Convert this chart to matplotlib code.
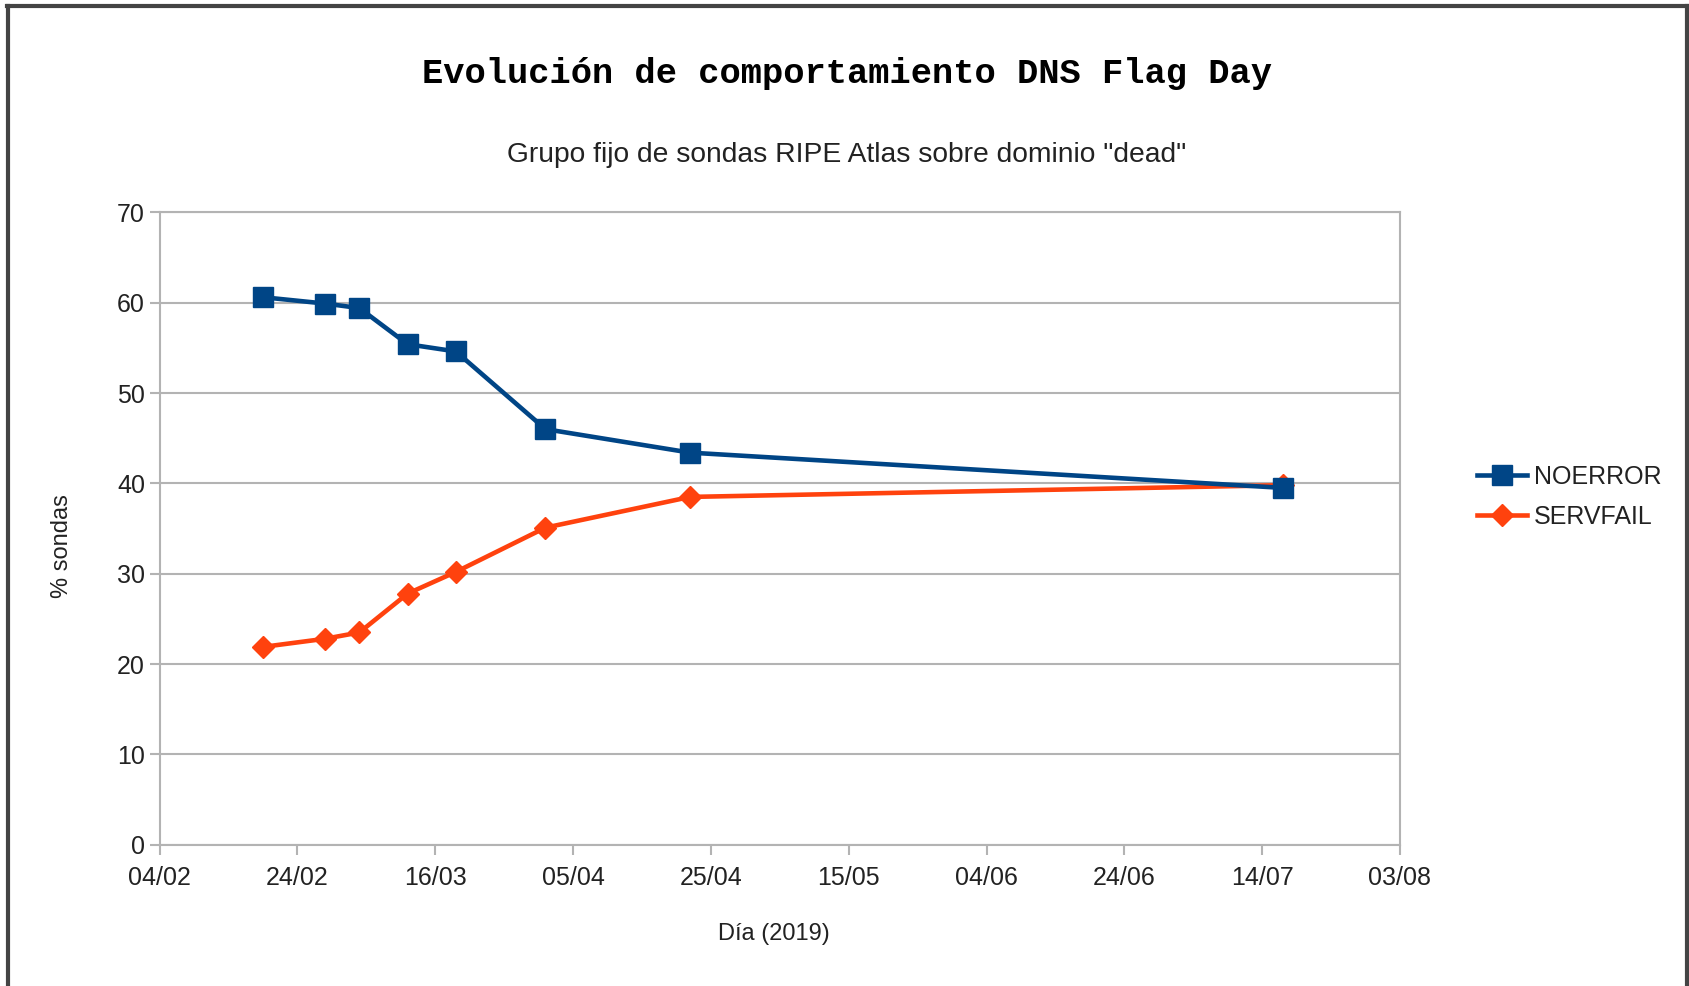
import matplotlib
matplotlib.use("Agg")
import matplotlib.pyplot as plt
import matplotlib.dates as mdates
from matplotlib.lines import Line2D
import pandas as pd

# Fechas de medición y porcentaje de sondas
fechas = pd.to_datetime([
    "2019-02-19", "2019-02-28", "2019-03-05", "2019-03-12",
    "2019-03-19", "2019-04-01", "2019-04-22", "2019-07-17",
])
noerror = [60.6, 59.9, 59.4, 55.4, 54.6, 46.0, 43.4, 39.5]
servfail = [21.9, 22.8, 23.5, 27.8, 30.2, 35.1, 38.5, 39.8]

ticks_x = pd.date_range("2019-02-04", "2019-08-03", freq="20D")
ticks_y = [0, 10, 20, 30, 40, 50, 60, 70]

azul = "#004586"
naranja = "#ff420e"
gris = "#b3b3b3"

plt.rcParams["font.family"] = ["Liberation Sans", "DejaVu Sans"]

fig = plt.figure(figsize=(16.9, 9.86), dpi=100)
ax = fig.add_axes([0.0944, 0.1432, 0.734, 0.6415])

ax.plot(fechas, servfail, color=naranja, lw=3.3, marker="D", ms=11,
        label="SERVFAIL", zorder=3)
ax.plot(fechas, noerror, color=azul, lw=3.3, marker="s", ms=14.5,
        label="NOERROR", zorder=4)

ax.set_xlim(ticks_x[0], ticks_x[-1])
ax.set_ylim(0, 70)
ax.set_xticks(ticks_x)
ax.xaxis.set_major_formatter(mdates.DateFormatter("%d/%m"))
ax.set_yticks(ticks_y)
ax.yaxis.grid(True, color=gris, lw=1.5)
ax.set_axisbelow(True)
for s in ax.spines.values():
    s.set_color(gris)
    s.set_linewidth(1.5)
ax.tick_params(axis="both", colors=gris, labelcolor="#222222",
               labelsize=18, length=7, width=1.5)
ax.tick_params(axis="x", pad=8)

fig.text(0.501, 0.925, "Evolución de comportamiento DNS Flag Day",
         family="Liberation Mono", weight="bold", fontsize=25.5,
         ha="center", va="center")
fig.text(0.501, 0.843, 'Grupo fijo de sondas RIPE Atlas sobre dominio "dead"',
         fontsize=20.3, ha="center", va="center", color="#222222")
fig.text(0.458, 0.0527, "Día (2019)", fontsize=17, ha="center",
         va="center", color="#222222")
fig.text(0.0364, 0.446, "% sondas", fontsize=17, ha="center",
         va="center", rotation=90, color="#222222")

h, l = ax.get_legend_handles_labels()
fig.legend(h[::-1], l[::-1], loc="center left",
           bbox_to_anchor=(1455 / 1690, 1 - 497 / 986), frameon=False,
           fontsize=18, handlelength=2.0, handletextpad=0.25,
           labelspacing=0.65, labelcolor="#222222")

# marco de la captura
for xs, ys in [([0.004, 0.999], [0.994, 0.994]),
               ([0.0045, 0.0045], [0.0, 0.994]),
               ([0.9985, 0.9985], [0.0, 0.994])]:
    fig.add_artist(Line2D(xs, ys, color="#444444", lw=3,
                          transform=fig.transFigure))

fig.savefig("out.png", dpi=100, facecolor="white")
